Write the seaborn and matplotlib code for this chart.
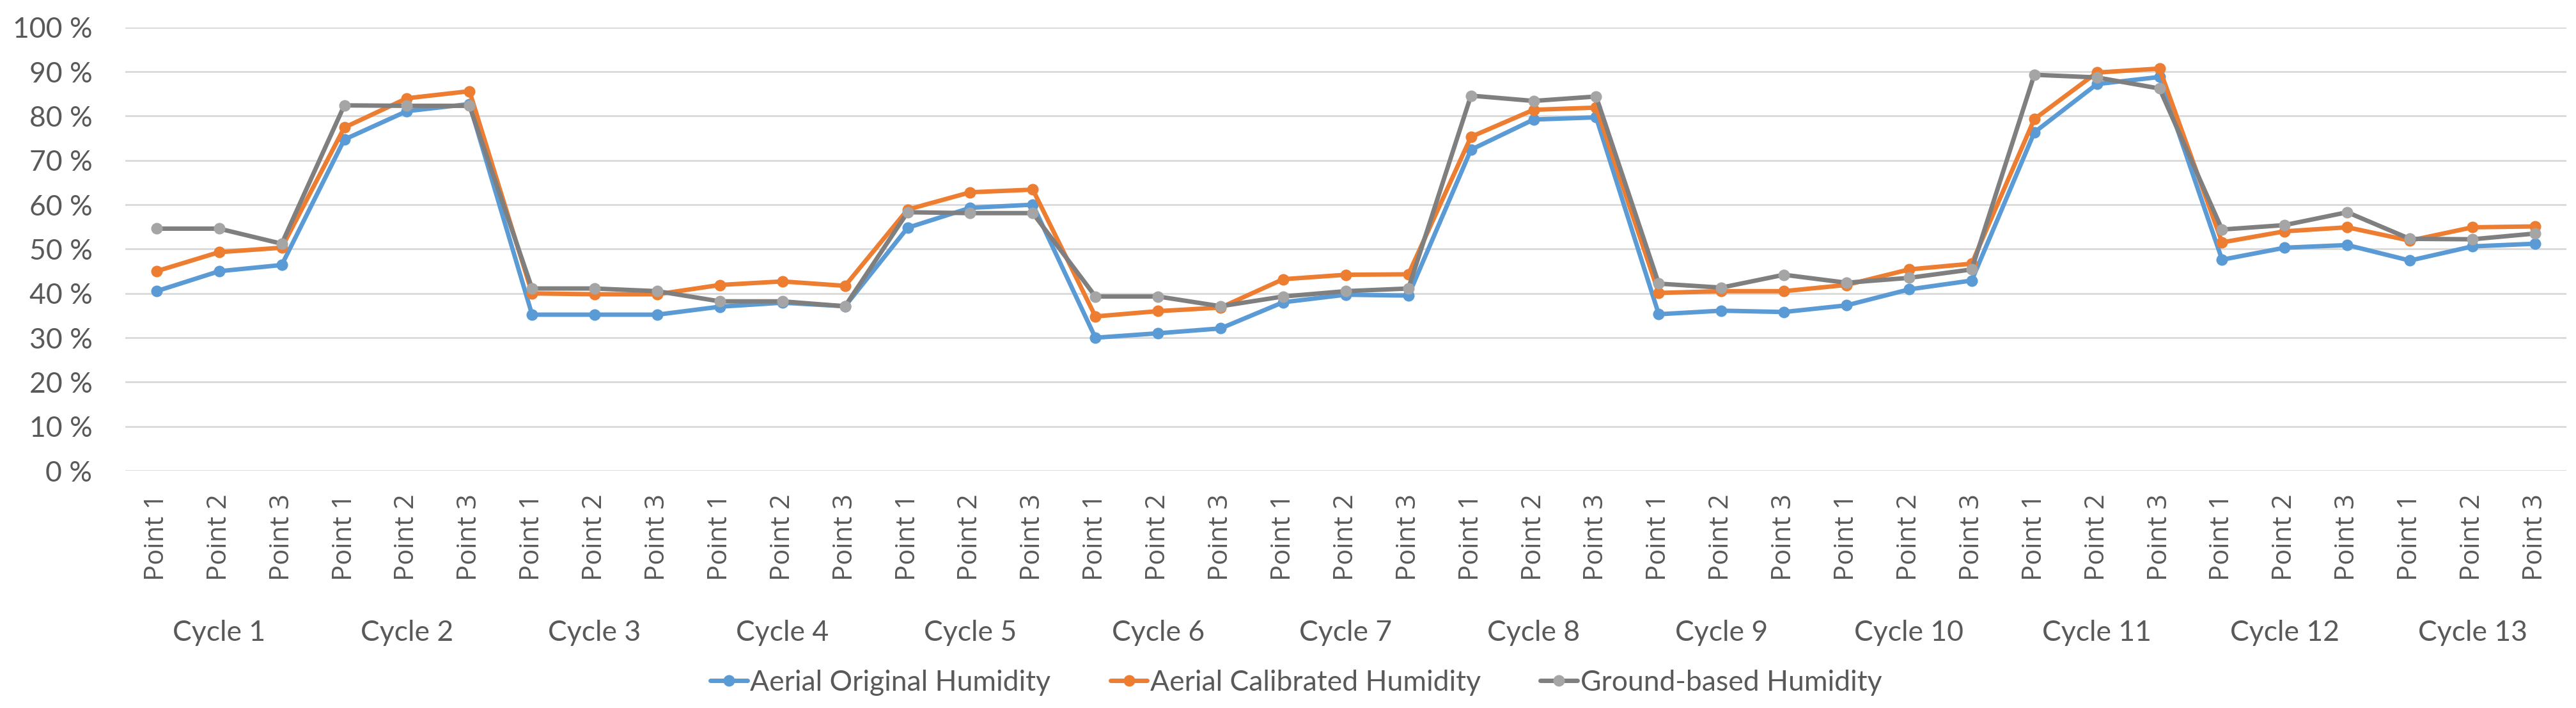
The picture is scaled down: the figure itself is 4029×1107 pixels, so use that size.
import numpy as np
import pandas as pd
import matplotlib
matplotlib.use("Agg")
import matplotlib.pyplot as plt
import seaborn as sns
from matplotlib.transforms import blended_transform_factory

# ---------------- data ----------------
cycles = [f"Cycle {i}" for i in range(1, 14)]
points = ["Point 1", "Point 2", "Point 3"]
series_names = ["Aerial Original Humidity", "Aerial Calibrated Humidity", "Ground-based Humidity"]

aerial_original = [40.5, 45.0, 46.4, 74.7, 81.1, 82.7, 35.2, 35.2, 35.2,
                   37.0, 37.9, 37.1, 54.8, 59.3, 60.0, 30.0, 31.0, 32.1,
                   38.0, 39.7, 39.5, 72.4, 79.2, 79.7, 35.3, 36.1, 35.8,
                   37.3, 40.9, 42.9, 76.3, 87.2, 88.8, 47.6, 50.3, 50.9,
                   47.4, 50.6, 51.2]
aerial_calibrated = [45.0, 49.3, 50.3, 77.4, 84.0, 85.6, 40.0, 39.8, 39.8,
                     41.9, 42.7, 41.7, 58.9, 62.8, 63.4, 34.8, 36.0, 36.8,
                     43.2, 44.2, 44.3, 75.3, 81.4, 81.9, 40.1, 40.5, 40.5,
                     41.9, 45.4, 46.7, 79.3, 89.8, 90.7, 51.5, 54.0, 54.9,
                     51.9, 54.9, 55.1]
ground_based = [54.6, 54.6, 51.2, 82.4, 82.3, 82.3, 41.1, 41.1, 40.5,
                38.2, 38.2, 37.1, 58.3, 58.1, 58.1, 39.3, 39.3, 37.1,
                39.3, 40.5, 41.1, 84.6, 83.4, 84.4, 42.2, 41.3, 44.2,
                42.4, 43.5, 45.4, 89.3, 88.7, 86.2, 54.4, 55.4, 58.3,
                52.3, 52.2, 53.5]

y_ticks = [0, 10, 20, 30, 40, 50, 60, 70, 80, 90, 100]
y_tick_labels = ["0 %", "10 %", "20 %", "30 %", "40 %", "50 %", "60 %",
                 "70 %", "80 %", "90 %", "100 %"]

point_labels = [p for c in cycles for p in points]
n = len(point_labels)

rows = []
for name, vals in zip(series_names, [aerial_original, aerial_calibrated, ground_based]):
    for i, v in enumerate(vals):
        rows.append({"idx": i, "value": v, "series": name})
df = pd.DataFrame(rows)

# ---------------- style ----------------
sns.set_theme(style="white")
plt.rcParams["font.family"] = ["Lato", "DejaVu Sans"]
text_color = "#595959"
palette = {"Aerial Original Humidity": "#5B9BD5",
           "Aerial Calibrated Humidity": "#ED7D31",
           "Ground-based Humidity": "#A5A5A5"}
LW = 5.0
MS = 13

fig = plt.figure(figsize=(40.3, 11.07), dpi=100)
ax = fig.add_axes([0.0486, 0.3351, 0.9474, 0.6263])

sns.lineplot(data=df, x="idx", y="value", hue="series", hue_order=series_names,
             palette=palette, marker="o", markersize=MS, linewidth=LW,
             markeredgewidth=0, ax=ax)

leg = ax.get_legend()
handles = list(leg.legend_handles)
labels = [t.get_text() for t in leg.texts]
leg.remove()

# gray series: darker line, lighter markers
gray_line = ax.get_lines()[2]
gray_line.set_color("#7F7F7F")
gray_line.set_markerfacecolor("#A5A5A5")
gray_line.set_markeredgecolor("#A5A5A5")
for h in handles:
    h.set_linewidth(LW)
    h.set_markersize(MS)
    h.set_markeredgewidth(0)
handles[2].set_color("#7F7F7F")
handles[2].set_markerfacecolor("#A5A5A5")
handles[2].set_markeredgecolor("#A5A5A5")

ax.set_xlim(-0.5, n - 0.5)
ax.set_ylim(0, 100)
ax.set_yticks(y_ticks)
ax.set_yticklabels(y_tick_labels, fontsize=32, color=text_color)
ax.set_xticks(range(n))
ax.set_xticklabels(point_labels, rotation=90, fontsize=30, color=text_color,
                   family=["Open Sans", "DejaVu Sans"])
ax.tick_params(axis="x", length=0, pad=26)
ax.tick_params(axis="y", length=0, pad=37)
ax.set_xlabel("")
ax.set_ylabel("")
ax.yaxis.grid(True, color="#D9D9D9", linewidth=2)
ax.xaxis.grid(False)
ax.set_axisbelow(True)
for s in ax.spines.values():
    s.set_visible(False)

trans = blended_transform_factory(ax.transData, fig.transFigure)
for k, c in enumerate(cycles):
    ax.text(3 * k + 1, 0.0949, c, ha="center", va="baseline", transform=trans,
            fontsize=32, color=text_color)

fig.legend(handles, labels, loc="center", bbox_to_anchor=(0.503, 0.036), ncol=3,
           frameon=False, fontsize=32, handlelength=1.3, handletextpad=0.1,
           columnspacing=2.1, labelcolor=text_color)

fig.savefig("out.png", dpi=100)
